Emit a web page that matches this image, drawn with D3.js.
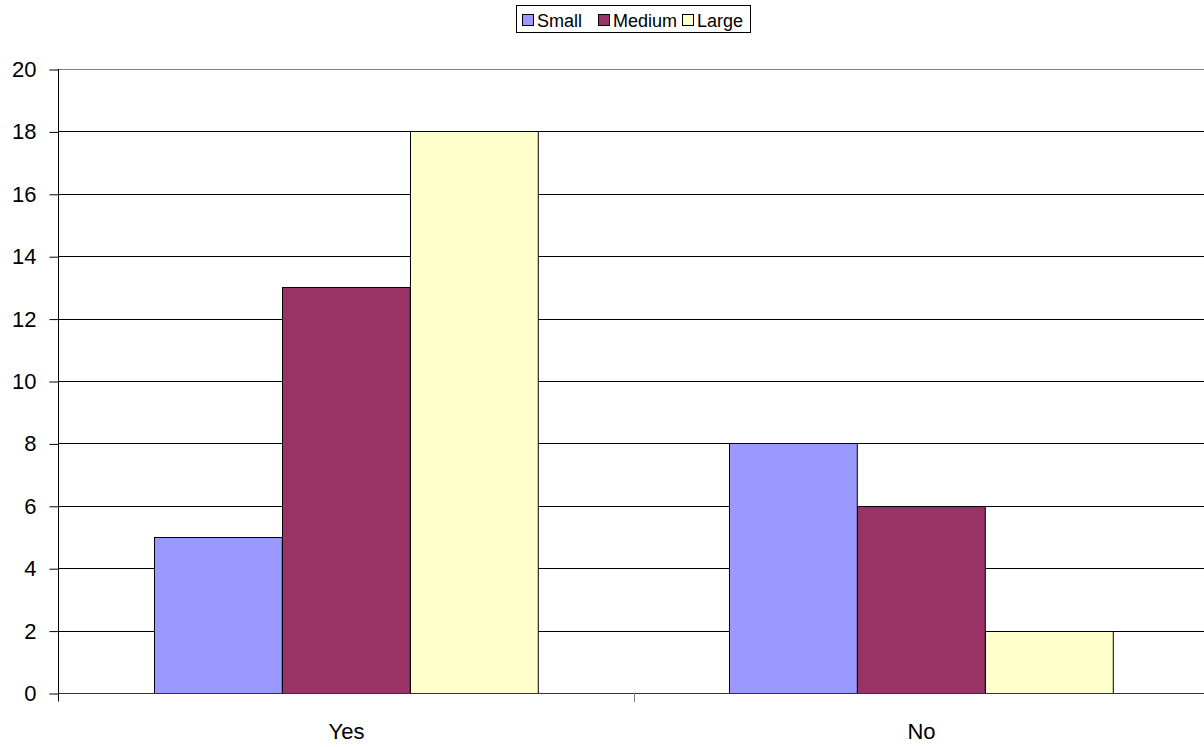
<!DOCTYPE html>
<html>
<head>
<meta charset="utf-8">
<script src="https://cdn.jsdelivr.net/npm/d3@7"></script>
<style>
  html, body { margin: 0; padding: 0; background: #fff; }
  svg { display: block; font-family: "Liberation Sans", Arial, sans-serif; }
</style>
</head>
<body>
<svg id="chart" width="1204" height="747"></svg>
<script>
// Answer categories along the x axis
const categories = ["Yes", "No"];
// Series (company size) names
const seriesNames = ["Small", "Medium", "Large"];
// Counts per series, in category order
const smallValues = [5, 8];
const mediumValues = [13, 6];
const largeValues = [18, 2];
// Y axis ticks
const yTicks = [0, 2, 4, 6, 8, 10, 12, 14, 16, 18, 20];

const seriesValues = [smallValues, mediumValues, largeValues];
const colors = ["#9999FF", "#993366", "#FFFFCC"];

const svg = d3.select("#chart");
const plot = { left: 59, right: 1209, top: 69, bottom: 693 };

const x0 = d3.scaleBand().domain(categories).range([plot.left, plot.right]).padding(0);
const x1 = d3.scaleBand().domain(seriesNames).range([0, x0.bandwidth()])
  .paddingInner(0).paddingOuter(0.75);
const y = d3.scaleLinear().domain([0, 20]).range([plot.bottom, plot.top]);

// Horizontal gridlines
svg.append("g").selectAll("line").data(yTicks.filter(t => t > 0)).join("line")
  .attr("x1", plot.left).attr("x2", plot.right)
  .attr("y1", d => Math.round(y(d)) + 0.5).attr("y2", d => Math.round(y(d)) + 0.5)
  .attr("stroke", d => d === 20 ? "#808080" : "#000")
  .attr("stroke-width", 1);

// Bars
const rows = [];
categories.forEach((c, i) => {
  seriesNames.forEach((s, j) => rows.push({ cat: c, series: s, value: seriesValues[j][i], color: colors[j] }));
});
svg.append("g").selectAll("rect").data(rows).join("rect")
  .attr("x", d => Math.floor(x0(d.cat) + x1(d.series)) + 0.5)
  .attr("y", d => Math.round(y(d.value)) + 0.5)
  .attr("width", x1.bandwidth())
  .attr("height", d => Math.round(y(0)) - Math.round(y(d.value)))
  .attr("fill", d => d.color)
  .attr("stroke", "#000")
  .attr("stroke-width", 1);

// Y axis
const yAxis = d3.axisLeft(y).tickValues(yTicks).tickSize(9).tickPadding(13);
const yg = svg.append("g").attr("transform", `translate(${plot.left - 0.5},0.5)`).call(yAxis);
yg.select(".domain").attr("stroke", "#000").attr("d", `M0,${plot.top - 0.5}V${plot.bottom + 8}`);
yg.selectAll(".tick line").attr("stroke", "#000");
yg.selectAll(".tick text").attr("fill", "#000").attr("font-size", 22)
  .attr("font-family", "Liberation Sans, Arial, sans-serif");

// X axis
const xAxis = d3.axisBottom(x0).tickSize(0).tickPadding(30);
const xg = svg.append("g").attr("transform", `translate(0,${Math.round(y(0)) + 0.5})`).call(xAxis);
xg.select(".domain").attr("stroke", "#333").attr("d", `M${plot.left},0H${plot.right}`);
xg.selectAll(".tick text").attr("fill", "#000").attr("font-size", 22)
  .attr("font-family", "Liberation Sans, Arial, sans-serif");
// Category separator ticks
svg.append("g").selectAll("line").data(categories.slice(1)).join("line")
  .attr("x1", d => Math.round(x0(d)) + 0.5).attr("x2", d => Math.round(x0(d)) + 0.5)
  .attr("y1", Math.round(y(0))).attr("y2", Math.round(y(0)) + 9)
  .attr("stroke", "#808080");

// Legend
const legend = svg.append("g");
legend.append("rect").attr("x", 516.5).attr("y", 5.5).attr("width", 234).attr("height", 27)
  .attr("fill", "#fff").attr("stroke", "#000");
const legendX = [522, 598, 682];
const items = legend.selectAll("g.item").data(seriesNames).join("g").attr("class", "item")
  .attr("transform", (d, i) => `translate(${legendX[i]},0)`);
items.append("rect").attr("x", 0.5).attr("y", 14.5).attr("width", 11).attr("height", 11)
  .attr("fill", (d, i) => colors[i]).attr("stroke", "#000");
items.append("text").attr("x", 15).attr("y", 26.5).attr("font-size", 18)
  .attr("fill", "#000").text(d => d);
</script>
</body>
</html>
